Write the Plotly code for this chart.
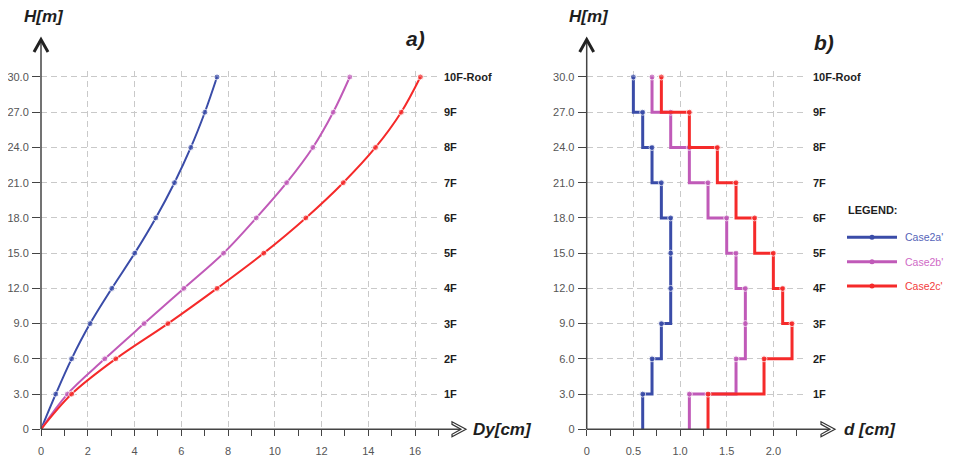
import plotly.graph_objects as go

# ---------------- data ----------------
heights = [0, 3, 6, 9, 12, 15, 18, 21, 24, 27, 30]
floor_levels = [3, 6, 9, 12, 15, 18, 21, 24, 27, 30]
floor_labels = ["1F", "2F", "3F", "4F", "5F", "6F", "7F", "8F", "9F", "10F-Roof"]
ytick_vals = [0, 3, 6, 9, 12, 15, 18, 21, 24, 27, 30]
ytick_text = ["0", "3.0", "6.0", "9.0", "12.0", "15.0", "18.0", "21.0", "24.0", "27.0", "30.0"]

# panel a) lateral displacement Dy [cm] at each height
dy_case2a = [0, 0.63, 1.31, 2.10, 3.03, 4.01, 4.91, 5.71, 6.41, 7.01, 7.53]
dy_case2b = [0, 1.13, 2.73, 4.41, 6.11, 7.81, 9.21, 10.51, 11.63, 12.50, 13.21]
dy_case2c = [0, 1.31, 3.20, 5.43, 7.53, 9.53, 11.33, 12.93, 14.31, 15.41, 16.23]

# panel b) storey drift d [cm], storey 1 .. 10
d_case2a = [0.6, 0.7, 0.8, 0.9, 0.9, 0.9, 0.8, 0.7, 0.6, 0.5]
d_case2b = [1.1, 1.6, 1.7, 1.7, 1.6, 1.5, 1.3, 1.1, 0.9, 0.7]
d_case2c = [1.3, 1.9, 2.2, 2.1, 2.0, 1.8, 1.6, 1.4, 1.1, 0.8]

series_names = ["Case2a'", "Case2b'", "Case2c'"]
colors = ["#3a4ca8", "#c05ab8", "#f52a2a"]
legend_text_colors = ["#5564b8", "#cf6ac6", "#f23c3c"]

# the page body has an 8px margin: the figure fills the rest of the window
OFF = 8
W, H = 954 - OFF, 457 - OFF
def px(x):
    return (x - OFF) / W
def py(y):
    return 1 - (y - OFF) / H

FONT = "Liberation Sans, Arial, sans-serif"
DARK = "#1e1e1e"
AXC = "#444444"

fig = go.Figure()

# ---------------- panel a ----------------
for name, xs, c in zip(series_names, [dy_case2a, dy_case2b, dy_case2c], colors):
    sizes = [0] + [6] * (len(xs) - 1)
    fig.add_trace(go.Scatter(
        x=xs, y=heights, mode="lines+markers", name=name,
        line=dict(color=c, width=2, shape="spline", smoothing=1.0),
        marker=dict(size=sizes, color=c),
        cliponaxis=False, showlegend=False, xaxis="x", yaxis="y"))

# ---------------- panel b ----------------
for name, ds, c in zip(series_names, [d_case2a, d_case2b, d_case2c], colors):
    xs, ys = [], []
    for lvl, d in sorted(zip(floor_levels, ds), reverse=True):
        xs.append(d)
        ys.append(lvl)
    xs.append(ds[0])
    ys.append(0)
    sizes = [6] * (len(xs) - 1) + [0]
    fig.add_trace(go.Scatter(
        x=xs, y=ys, mode="lines+markers", name=name,
        line=dict(color=c, width=3, shape="vh"),
        marker=dict(size=sizes, color=c),
        cliponaxis=False, showlegend=False, xaxis="x2", yaxis="y2"))

# ---------------- axes geometry ----------------
y0_px, y30_px = 429.3, 77.0
ppu_y = (y0_px - y30_px) / 30.0
ymax = 30.5
y_dom = [py(y0_px), py(y0_px - ymax * ppu_y)]

ax_a0, ppu_a = 41.0, 23.375
xa_max = 17.05
ax_b0, ppu_b = 586.7, 93.33
xb_max = 2.34

grid = dict(showgrid=True, gridcolor="#c9c9c9", gridwidth=1, griddash="6px,4px")
tickfont = dict(family=FONT, size=11, color="#555555")

fig.update_layout(
    width=W, height=H, margin=dict(l=0, r=0, t=0, b=0, autoexpand=False),
    paper_bgcolor="white", plot_bgcolor="white",
    xaxis=dict(domain=[px(ax_a0), px(ax_a0 + xa_max * ppu_a)], range=[0, xa_max],
               tickvals=[0, 2, 4, 6, 8, 10, 12, 14, 16], ticks="outside", ticklen=6,
               tickcolor=AXC, tickfont=tickfont, ticklabelstandoff=5,
               minor=dict(dtick=1, ticks="outside", ticklen=6, tickcolor=AXC, showgrid=False),
               zeroline=False, showline=False, anchor="y", automargin=False, **grid),
    yaxis=dict(domain=y_dom, range=[0, ymax], tickvals=ytick_vals, ticktext=ytick_text,
               ticks="outside", ticklen=8, tickcolor=AXC, tickfont=tickfont,
               ticklabelstandoff=1, zeroline=False, showline=False, anchor="x",
               automargin=False, **grid),
    xaxis2=dict(domain=[px(ax_b0), px(ax_b0 + xb_max * ppu_b)], range=[0, xb_max],
                tickvals=[0, 0.5, 1.0, 1.5, 2.0], ticktext=["0", "0.5", "1.0", "1.5", "2.0"],
                ticks="outside", ticklen=6, tickcolor=AXC, tickfont=tickfont, ticklabelstandoff=5,
                minor=dict(tick0=0.25, dtick=0.5, ticks="outside", ticklen=6, tickcolor=AXC, showgrid=False),
                zeroline=False, showline=False, anchor="y2", automargin=False, **grid),
    yaxis2=dict(domain=y_dom, range=[0, ymax], tickvals=ytick_vals, ticktext=ytick_text,
                ticks="outside", ticklen=8, tickcolor=AXC, tickfont=tickfont,
                ticklabelstandoff=1, zeroline=False, showline=False, anchor="x2",
                automargin=False, **grid),
)

shapes = []
annotations = []

def axis_arrows(x0, xr):
    # vertical axis line + caret arrow
    shapes.append(dict(type="line", xref="paper", yref="paper",
                       x0=px(x0), x1=px(x0), y0=py(y0_px), y1=py(40),
                       line=dict(color=AXC, width=1.5)))
    shapes.append(dict(type="path", xref="paper", yref="paper",
                       path=f"M {px(x0-7)},{py(52)} L {px(x0)},{py(39.5)} L {px(x0+7)},{py(52)}",
                       line=dict(color="#222222", width=3)))
    # horizontal axis line + open chevron
    shapes.append(dict(type="line", xref="paper", yref="paper",
                       x0=px(x0), x1=px(xr - 2), y0=py(y0_px), y1=py(y0_px),
                       line=dict(color=AXC, width=1.5)))
    shapes.append(dict(type="path", xref="paper", yref="paper",
                       path=(f"M {px(xr-14)},{py(y0_px-7.5)} L {px(xr)},{py(y0_px)} "
                             f"L {px(xr-14)},{py(y0_px+7.5)} L {px(xr-14)},{py(y0_px+5)} "
                             f"L {px(xr-5)},{py(y0_px)} L {px(xr-14)},{py(y0_px-5)} Z"),
                       fillcolor="white", line=dict(color="#333333", width=1.2)))

axis_arrows(ax_a0, 466)
axis_arrows(ax_b0, 835)

def txt(text, x, y, size=17, xanchor="left", color=DARK, bold=True, italic=True):
    t = text
    if bold:
        t = f"<b>{t}</b>"
    if italic:
        t = f"<i>{t}</i>"
    annotations.append(dict(text=t, xref="paper", yref="paper", x=px(x), y=py(y),
                            xanchor=xanchor, yanchor="middle", showarrow=False,
                            font=dict(family=FONT, size=size, color=color)))

txt("H[m]", 22, 17)
txt("H[m]", 567, 17)
txt("a)", 404, 38, size=21)
txt("b)", 812, 43, size=21)
txt("Dy[cm]", 471, 429, size=17)
txt("d [cm]", 842, 429, size=17)

# floor labels on the right of each panel
for lvl, lab in zip(floor_levels, floor_labels):
    for xref_px, yr in [(442, "y"), (811, "y2")]:
        annotations.append(dict(text=f"<b>{lab}</b>", xref="paper", yref=yr,
                                x=px(xref_px), y=lvl, xanchor="left", yanchor="middle",
                                showarrow=False, font=dict(family=FONT, size=11, color=DARK)))

# legend
txt("LEGEND:", 846, 210, size=11, italic=False)
for i, (name, c, tc) in enumerate(zip(series_names, colors, legend_text_colors)):
    yy = 237.3 + i * 24.4
    shapes.append(dict(type="line", xref="paper", yref="paper",
                       x0=px(847), x1=px(897), y0=py(yy), y1=py(yy),
                       line=dict(color=c, width=3)))
    shapes.append(dict(type="circle", xref="paper", yref="paper",
                       x0=px(869.5), x1=px(874.5), y0=py(yy + 2.5), y1=py(yy - 2.5),
                       fillcolor=c, line=dict(color=c, width=0)))
    txt(name, 903, yy, size=10.5, color=tc, bold=False, italic=False)

fig.update_layout(shapes=shapes, annotations=annotations)
fig.write_html("out.html")
